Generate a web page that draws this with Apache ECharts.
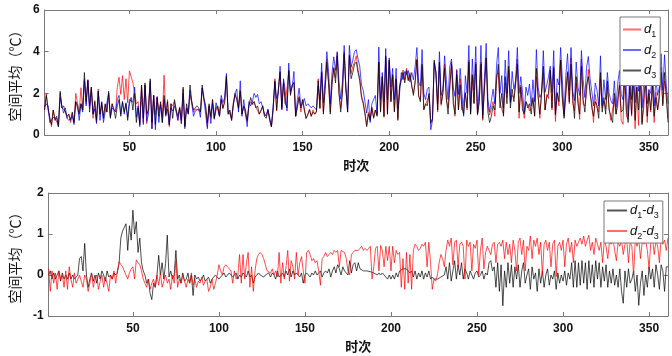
<!DOCTYPE html>
<html>
<head>
<meta charset="utf-8">
<script src="https://cdn.jsdelivr.net/npm/echarts@6/dist/echarts.min.js"></script>
<style>
  html, body { margin: 0; padding: 0; background: #fff; }
  #main { width: 672px; height: 356px; }
</style>
</head>
<body>
<div id="main"></div>
<script>
// 时次 1..361
var xTicks = [50, 100, 150, 200, 250, 300, 350];
var yTicksTop = [0, 2, 4, 6];
var yTicksBottom = [-1, 0, 1, 2];

// 上图 d1 (红)
var d1 = [
  1.2, 2.0, 1.2, 0.85, 0.4, 1.2, 0.8, 0.75, 0.45, 2.0, 1.3, 1.3, 1.15, 0.8, 1.0, 0.6, 1.05, 0.6, 2.0, 2.05,
  1.1, 2.27, 1.2, 2.7, 1.5, 2.65, 1.25, 2.3, 0.8, 1.65, 0.6, 2.2, 1.0, 1.45, 0.9, 1.45, 1.1, 2.0, 0.85, 1.5,
  1.25, 1.1, 2.3, 2.77, 1.95, 2.85, 1.7, 2.7, 1.55, 3.08, 2.8, 2.5, 2.55, 1.5, 1.6, 0.6, 2.4, 0.6, 2.4, 0.55,
  0.6, 2.5, 0.3, 1.9, 0.98, 1.8, 1.2, 1.5, 0.88, 2.87, 0.95, 1.7, 0.4, 1.5, 1.4, 1.6, 1.2, 0.7, 1.35, 0.55,
  2.2, 0.45, 1.3, 1.0, 1.9, 1.6, 1.1, 1.25, 1.25, 1.2, 1.1, 2.25, 1.7, 1.35, 0.4, 1.4, 0.8, 1.7, 0.75, 1.2,
  1.35, 0.9, 1.75, 1.25, 1.6, 2.85, 1.0, 1.15, 0.7, 1.55, 1.9, 1.7, 1.25, 2.15, 1.0, 1.35, 1.3, 0.65, 1.4, 1.6,
  1.45, 1.6, 1.35, 1.4, 1.0, 1.15, 1.4, 0.9, 0.85, 1.15, 0.75, 0.4, 1.2, 2.7, 1.15, 2.2, 3.05, 1.25, 2.6, 1.5,
  1.45, 3.05, 2.0, 2.4, 2.55, 0.9, 1.35, 1.85, 1.1, 1.7, 1.25, 0.8, 0.95, 1.25, 0.9, 1.2, 1.0, 1.15, 2.7, 1.25,
  3.05, 1.1, 2.25, 3.65, 2.45, 1.1, 2.6, 3.25, 2.75, 3.95, 2.0, 1.3, 2.1, 4.0, 2.2, 1.45, 3.85, 2.95, 3.3, 3.5,
  3.8, 3.15, 2.72, 1.9, 1.6, 1.1, 0.48, 1.08, 0.75, 1.35, 0.85, 1.2, 0.95, 3.5, 1.15, 2.8, 0.85, 3.7, 1.0, 3.5,
  1.6, 2.8, 1.15, 2.65, 0.8, 2.42, 2.75, 3.12, 2.65, 3.2, 2.65, 3.0, 2.35, 2.0, 2.5, 3.65, 1.85, 1.7, 3.3, 1.25,
  1.45, 1.5, 1.9, 0.55, 0.7, 3.52, 2.9, 1.1, 3.45, 1.42, 2.0, 3.4, 1.7, 1.3, 2.25, 3.5, 1.85, 0.9, 3.15, 1.2,
  2.7, 1.2, 1.15, 2.05, 1.2, 3.6, 1.0, 2.8, 1.55, 3.5, 0.95, 1.6, 3.5, 0.7, 2.25, 3.7, 1.4, 0.95, 1.0, 1.6,
  0.9, 2.9, 3.0, 1.55, 1.25, 1.0, 2.5, 1.8, 3.1, 1.55, 1.9, 1.8, 2.4, 3.65, 0.8, 2.4, 1.5, 0.8, 1.6, 1.45,
  1.15, 1.2, 1.7, 0.95, 2.8, 1.95, 0.8, 2.1, 3.0, 1.2, 1.95, 1.75, 3.1, 1.2, 3.3, 0.65, 2.05, 1.4, 3.6, 1.65,
  0.9, 1.85, 3.05, 1.5, 3.7, 1.5, 1.15, 2.5, 1.8, 0.75, 3.65, 1.5, 1.4, 2.05, 3.15, 1.9, 1.55, 0.6, 1.95, 1.3,
  1.1, 2.7, 1.3, 1.65, 1.25, 2.3, 1.3, 0.7, 0.75, 1.75, 1.0, 1.4, 2.55, 0.7, 0.51, 2.9, 0.9, 0.75, 2.3, 0.9,
  3.0, 0.3, 2.3, 0.46, 2.8, 0.6, 1.3, 2.6, 0.6, 2.2, 1.1, 2.55, 0.6, 2.05, 1.2, 1.65, 3.25, 1.5, 2.6, 2.0, 0.8
];

// 上图 d2 (蓝)
var d2 = [
  1.35, 1.5, 1.4, 0.6, 0.55, 0.85, 0.8, 0.8, 0.4, 1.8, 1.4, 1.05, 1.3, 0.8, 0.7, 0.75, 0.9, 0.5, 1.6, 1.45,
  0.7, 1.5, 1.1, 2.6, 1.4, 2.65, 1.1, 2.2, 1.0, 1.25, 0.55, 2.1, 0.7, 1.55, 0.6, 1.1, 1.1, 2.0, 0.9, 1.3,
  1.3, 1.12, 1.7, 1.9, 1.0, 1.6, 1.0, 1.55, 0.85, 1.7, 1.7, 1.57, 2.3, 0.85, 1.4, 0.4, 2.2, 0.5, 2.4, 0.65,
  1.0, 2.6, 0.3, 1.9, 0.25, 1.85, 0.6, 1.45, 0.6, 1.7, 0.9, 1.25, 0.5, 1.3, 1.15, 1.4, 1.1, 0.7, 1.3, 0.55,
  2.0, 0.3, 1.3, 1.05, 2.15, 1.5, 0.9, 1.15, 1.2, 1.25, 0.85, 2.25, 1.7, 1.0, 0.3, 1.4, 0.55, 1.5, 0.8, 1.55,
  1.5, 0.9, 1.9, 1.55, 1.8, 2.95, 1.1, 1.0, 0.8, 1.4, 2.0, 2.2, 1.1, 2.6, 0.9, 1.7, 1.75, 0.4, 1.6, 1.4,
  1.6, 2.0, 1.8, 1.95, 1.5, 1.6, 1.65, 1.0, 0.9, 1.25, 0.85, 0.4, 1.4, 2.55, 1.75, 2.0, 3.3, 1.2, 2.7, 2.1,
  1.15, 3.45, 2.1, 2.3, 3.05, 0.9, 1.7, 2.25, 1.4, 1.5, 1.75, 1.4, 1.5, 1.55, 1.3, 1.4, 1.35, 1.2, 2.35, 1.7,
  3.45, 1.55, 2.65, 4.0, 3.05, 1.5, 3.0, 3.75, 3.1, 4.0, 2.6, 1.72, 2.55, 4.3, 2.3, 1.1, 4.3, 3.25, 3.6, 4.0,
  4.1, 3.65, 3.3, 2.4, 2.15, 1.6, 1.05, 1.7, 0.6, 1.5, 1.45, 1.9, 1.0, 4.22, 1.7, 3.0, 1.6, 4.15, 1.7, 3.7,
  2.3, 3.2, 1.7, 3.2, 1.25, 2.0, 3.0, 2.65, 3.05, 2.9, 3.1, 2.55, 3.0, 2.65, 3.3, 4.2, 2.55, 2.35, 4.1, 2.0,
  1.7, 2.2, 2.3, 0.25, 0.7, 3.45, 3.0, 1.5, 4.0, 1.9, 2.2, 3.8, 2.65, 1.7, 3.3, 3.65, 2.3, 1.85, 3.1, 1.95,
  3.2, 2.0, 0.9, 2.85, 2.0, 4.3, 1.1, 3.65, 2.15, 4.25, 1.0, 2.2, 4.3, 0.95, 2.75, 4.4, 1.7, 1.1, 1.65, 2.2,
  1.5, 3.35, 4.2, 2.0, 2.85, 1.3, 3.6, 2.0, 4.05, 1.6, 3.05, 2.2, 2.6, 4.2, 2.0, 2.8, 2.05, 1.1, 2.3, 1.9,
  2.45, 1.4, 2.65, 1.6, 4.1, 2.3, 1.8, 2.0, 4.05, 2.05, 2.4, 2.8, 3.3, 2.05, 4.05, 0.96, 2.7, 2.4, 4.2, 2.65,
  1.0, 2.85, 3.9, 2.15, 4.2, 2.1, 1.65, 3.5, 2.3, 1.9, 4.05, 2.65, 1.8, 3.25, 3.77, 2.7, 2.1, 1.4, 2.5, 2.15,
  1.4, 3.8, 1.4, 2.65, 1.7, 3.0, 2.0, 1.65, 1.5, 2.6, 1.35, 2.5, 3.1, 1.95, 1.7, 3.55, 2.1, 0.9, 3.3, 1.7,
  2.9, 1.55, 3.0, 2.1, 3.4, 1.3, 2.55, 3.45, 1.5, 2.15, 2.0, 3.3, 1.4, 2.65, 1.9, 2.3, 3.9, 2.15, 3.85, 2.4, 1.5
];

// 上图 d3 (黑)
var d3 = [
  1.2, 1.9, 1.3, 0.8, 0.5, 1.2, 0.7, 0.9, 0.4, 2.1, 1.3, 1.4, 1.1, 0.9, 1.0, 0.7, 1.1, 0.6, 1.6, 1.6,
  1.0, 1.5, 1.2, 3.0, 1.6, 2.6, 1.4, 2.3, 1.0, 1.6, 0.7, 2.1, 1.0, 1.6, 0.8, 1.5, 1.1, 2.1, 0.8, 1.5,
  1.2, 0.8, 1.4, 1.7, 0.9, 1.6, 1.1, 1.5, 0.7, 1.5, 1.8, 1.2, 2.0, 0.6, 1.3, 0.5, 2.4, 0.8, 2.5, 1.0,
  1.2, 2.7, 0.6, 1.9, 0.5, 1.8, 0.9, 1.6, 0.6, 1.9, 1.0, 1.6, 0.5, 1.5, 0.8, 1.7, 1.2, 0.9, 1.3, 0.7,
  2.3, 0.4, 1.5, 1.0, 2.4, 1.6, 1.2, 1.3, 1.4, 1.3, 1.1, 2.4, 1.8, 1.4, 0.6, 1.5, 0.9, 1.7, 0.8, 1.3,
  1.4, 0.9, 1.7, 1.3, 1.6, 2.8, 1.0, 1.2, 0.7, 1.5, 2.0, 1.7, 1.3, 2.1, 1.0, 1.4, 1.2, 0.7, 1.4, 1.8,
  1.5, 1.6, 1.3, 1.4, 1.0, 1.2, 1.4, 0.9, 0.8, 1.2, 0.7, 0.4, 1.3, 2.6, 1.2, 2.2, 3.0, 1.3, 2.5, 1.5,
  1.3, 3.1, 1.9, 2.4, 2.5, 0.9, 1.4, 1.8, 1.3, 1.7, 1.2, 0.8, 1.0, 1.2, 0.9, 1.1, 1.0, 1.1, 2.6, 1.3,
  3.0, 1.0, 2.2, 3.5, 2.5, 1.0, 2.4, 3.2, 2.5, 3.8, 2.0, 1.1, 2.0, 3.9, 2.2, 1.1, 3.8, 2.7, 3.0, 3.4,
  3.5, 3.0, 2.6, 1.8, 1.5, 1.0, 0.4, 1.0, 0.7, 1.3, 0.8, 1.2, 0.9, 3.5, 1.1, 2.8, 0.9, 3.8, 1.0, 3.6,
  1.6, 2.9, 1.1, 2.7, 0.7, 2.3, 2.6, 3.0, 2.5, 3.1, 2.6, 2.9, 2.4, 1.9, 2.6, 3.6, 1.9, 1.6, 3.4, 1.2,
  1.5, 1.4, 2.0, 0.6, 0.8, 3.6, 3.0, 1.2, 3.5, 1.5, 2.0, 3.2, 1.8, 1.0, 2.4, 3.4, 1.5, 1.0, 2.9, 1.2,
  2.4, 1.3, 1.0, 2.0, 1.3, 3.5, 1.0, 2.9, 1.5, 3.4, 1.0, 1.6, 3.4, 0.8, 2.2, 3.7, 1.1, 0.6, 0.9, 1.4,
  1.2, 2.6, 3.4, 1.3, 2.0, 0.9, 2.8, 1.5, 3.3, 1.3, 2.2, 1.6, 2.5, 3.4, 1.1, 2.3, 1.2, 1.0, 1.6, 1.3,
  1.5, 1.0, 1.8, 0.9, 3.2, 1.8, 1.0, 2.0, 3.3, 1.2, 1.8, 2.0, 3.1, 1.3, 3.2, 1.0, 2.0, 1.6, 3.6, 1.8,
  0.8, 2.1, 3.0, 1.6, 3.4, 1.8, 0.8, 2.8, 1.5, 1.0, 3.3, 1.7, 1.1, 2.4, 2.8, 2.1, 1.3, 0.9, 1.6, 1.4,
  0.8, 3.0, 1.1, 1.8, 1.0, 2.6, 1.2, 0.9, 0.6, 2.0, 1.0, 1.7, 2.4, 1.1, 1.2, 2.8, 1.2, 0.6, 2.5, 1.0,
  2.9, 0.7, 2.3, 1.2, 3.0, 0.5, 1.8, 2.6, 0.9, 2.0, 1.2, 2.4, 0.9, 1.8, 1.2, 2.0, 3.0, 1.4, 3.0, 1.8, 0.6
];

// 下图 d1-d3 (黑)
var d13 = [
  0.0, 0.1, -0.1, 0.05, -0.1, 0.0, 0.1, -0.15, 0.05, -0.1, 0.0, -0.1, 0.05, -0.1, 0.0, -0.1, -0.05, 0.0, 0.4, 0.45,
  0.1, 0.77, 0.0, -0.3, -0.1, 0.05, -0.15, 0.0, -0.2, 0.05, -0.1, 0.1, 0.0, -0.15, 0.1, -0.05, 0.0, -0.1, 0.05, 0.0,
  0.05, 0.3, 0.9, 1.07, 1.05, 1.25, 0.6, 1.2, 0.85, 1.58, 1.0, 1.3, 0.55, 0.9, 0.3, 0.1, 0.0, -0.2, -0.1, -0.45,
  -0.6, -0.2, -0.3, 0.0, 0.48, 0.0, 0.3, -0.1, 0.28, 0.97, -0.05, 0.1, -0.1, 0.0, 0.6, -0.1, 0.0, -0.2, 0.05, -0.15,
  -0.1, 0.05, -0.2, 0.0, -0.5, 0.0, -0.1, -0.05, -0.15, -0.1, 0.0, -0.15, -0.1, -0.05, -0.2, -0.1, -0.1, 0.0, -0.05, -0.1,
  -0.05, 0.0, 0.05, -0.05, 0.0, 0.05, 0.0, -0.05, 0.0, 0.05, -0.1, 0.0, -0.05, 0.05, 0.0, -0.05, 0.1, -0.05, 0.0, -0.2,
  -0.05, 0.0, 0.05, 0.0, 0.0, -0.05, 0.0, 0.0, 0.05, -0.05, 0.05, 0.0, -0.1, 0.1, -0.05, 0.0, 0.05, -0.05, 0.1, 0.0,
  0.15, -0.05, 0.1, 0.0, 0.05, 0.0, -0.05, 0.05, -0.2, 0.0, 0.05, 0.0, -0.05, 0.05, 0.0, 0.1, 0.0, 0.05, 0.1, -0.05,
  0.05, 0.1, 0.05, 0.15, -0.05, 0.1, 0.2, 0.05, 0.25, 0.15, 0.0, 0.2, 0.1, 0.1, 0.0, 0.35, 0.05, 0.25, 0.3, 0.1,
  0.3, 0.15, 0.12, 0.1, 0.1, 0.1, 0.08, 0.08, 0.05, 0.05, 0.05, 0.0, 0.05, 0.0, 0.05, 0.0, -0.05, -0.1, 0.0, -0.1,
  0.0, -0.1, 0.05, -0.05, 0.1, 0.12, 0.15, 0.12, 0.15, 0.1, 0.05, 0.1, -0.05, 0.1, -0.1, 0.05, -0.05, 0.1, -0.1, 0.05,
  -0.05, 0.1, -0.1, -0.05, -0.1, -0.08, -0.1, -0.1, -0.05, -0.08, 0.0, 0.2, -0.1, 0.3, -0.15, 0.1, 0.35, -0.1, 0.25, 0.0,
  0.3, -0.1, 0.15, 0.05, -0.1, 0.1, 0.0, -0.1, 0.05, 0.1, -0.05, 0.0, 0.1, -0.1, 0.05, 0.0, 0.3, 0.35, 0.1, 0.2,
  -0.3, 0.3, -0.4, 0.25, -0.75, 0.1, -0.3, 0.3, -0.2, 0.25, -0.3, 0.2, -0.1, 0.25, -0.3, 0.1, 0.3, -0.2, 0.0, 0.15,
  -0.35, 0.2, -0.1, 0.05, -0.4, 0.15, -0.2, 0.1, -0.3, 0.0, 0.15, -0.25, 0.0, -0.1, 0.1, -0.35, 0.05, -0.2, 0.0, -0.15,
  0.1, -0.25, 0.05, -0.1, 0.3, -0.3, 0.35, -0.3, 0.3, -0.25, 0.35, -0.2, 0.3, -0.35, 0.35, -0.2, 0.25, -0.3, 0.35, -0.1,
  0.3, -0.3, 0.2, -0.15, 0.25, -0.3, 0.1, -0.2, 0.15, -0.25, 0.0, -0.3, 0.15, -0.4, -0.69, 0.1, -0.3, 0.15, -0.2, -0.1,
  0.1, -0.4, 0.0, -0.74, -0.2, 0.1, -0.5, 0.0, -0.3, 0.2, -0.1, 0.15, -0.3, 0.25, 0.0, -0.35, 0.25, 0.1, -0.4, 0.2, 0.2
];

// 下图 d2-d3 (红)
var d23 = [
  0.15, -0.4, 0.1, -0.2, 0.05, -0.35, 0.1, -0.1, 0.0, -0.3, 0.1, -0.35, 0.2, -0.1, -0.3, 0.05, -0.2, -0.1, 0.0, -0.15,
  -0.3, 0.0, -0.1, -0.4, -0.2, 0.05, -0.3, -0.1, 0.0, -0.35, -0.15, 0.0, -0.3, -0.05, -0.2, -0.4, 0.0, -0.1, 0.1, -0.2,
  0.1, 0.32, 0.3, 0.2, 0.1, 0.0, -0.1, 0.05, 0.15, 0.2, -0.1, 0.37, 0.3, 0.25, 0.1, -0.1, -0.2, -0.3, -0.1, -0.35,
  -0.2, -0.1, -0.3, 0.0, -0.25, 0.05, -0.3, -0.15, 0.0, -0.2, -0.1, -0.35, 0.0, -0.2, 0.35, -0.3, -0.1, -0.2, 0.0, -0.15,
  -0.3, -0.1, -0.2, 0.05, -0.25, -0.1, -0.3, -0.15, -0.2, -0.05, -0.25, -0.15, -0.1, -0.4, -0.3, -0.1, -0.35, -0.2, 0.0, 0.25,
  0.1, 0.0, 0.2, 0.25, 0.2, 0.15, 0.1, -0.2, 0.1, -0.1, 0.0, 0.5, -0.2, 0.5, -0.1, 0.3, 0.55, -0.3, 0.2, -0.4,
  0.1, 0.4, 0.5, 0.55, 0.5, 0.4, 0.25, 0.1, 0.1, 0.05, 0.15, 0.0, 0.1, -0.05, 0.55, -0.2, 0.3, -0.1, 0.2, 0.6,
  -0.15, 0.35, 0.2, -0.1, 0.55, 0.0, 0.3, 0.45, 0.1, -0.2, 0.55, 0.6, 0.5, 0.35, 0.4, 0.3, 0.35, 0.1, -0.25, 0.4,
  0.45, 0.55, 0.45, 0.5, 0.55, 0.5, 0.6, 0.55, 0.6, 0.2, 0.6, 0.62, 0.55, 0.4, 0.1, 0.0, 0.5, 0.55, 0.6, 0.6,
  0.6, 0.65, 0.7, 0.6, 0.65, 0.6, 0.65, 0.7, -0.1, 0.2, 0.65, 0.7, 0.1, 0.72, 0.6, 0.2, 0.7, 0.35, 0.7, 0.1,
  0.7, 0.3, 0.6, 0.5, 0.55, -0.3, 0.4, -0.35, 0.55, -0.2, 0.5, -0.35, 0.6, 0.75, 0.7, 0.6, 0.65, 0.75, 0.7, 0.8,
  0.2, 0.8, 0.3, -0.35, -0.1, -0.15, 0.0, 0.3, 0.5, 0.4, 0.2, 0.6, 0.85, 0.7, 0.9, 0.25, 0.8, 0.85, 0.2, 0.75,
  0.8, 0.7, -0.1, 0.85, 0.7, 0.8, 0.1, 0.75, 0.65, 0.85, 0.0, 0.6, 0.9, 0.15, 0.55, 0.7, 0.6, 0.5, 0.75, 0.8,
  0.3, 0.75, 0.8, 0.7, 0.85, 0.4, 0.8, 0.5, 0.75, 0.3, 0.85, 0.6, 0.1, 0.8, 0.9, 0.5, 0.85, 0.1, 0.7, 0.6,
  0.95, 0.4, 0.85, 0.7, 0.9, 0.5, 0.8, 0.0, 0.75, 0.85, 0.6, 0.8, 0.2, 0.75, 0.85, -0.04, 0.7, 0.8, 0.6, 0.85,
  0.2, 0.75, 0.9, 0.55, 0.8, 0.3, 0.85, 0.7, 0.8, 0.9, 0.75, 0.95, 0.7, 0.85, 0.97, 0.6, 0.8, 0.5, 0.9, 0.75,
  0.6, 0.8, 0.3, 0.85, 0.7, 0.4, 0.8, 0.75, 0.9, 0.6, 0.35, 0.8, 0.7, 0.85, 0.5, 0.75, 0.9, 0.3, 0.8, 0.7,
  0.0, 0.85, 0.7, 0.9, 0.4, 0.8, 0.75, 0.85, 0.6, 0.15, 0.8, 0.9, 0.5, 0.85, 0.7, 0.3, 0.9, 0.75, 0.85, 0.6, 0.9
];

// 线色, 以及图例里较淡的线样
var seriesColors = {
  'd1': '#ff0000', 'd2': '#0000ff', 'd3': '#000000',
  'd1-d3': '#000000', 'd2-d3': '#ff0000'
};
var legendColors = {
  'd1': '#ff6a6a', 'd2': '#6a6aff', 'd3': '#555555',
  'd1-d3': '#555555', 'd2-d3': '#ff6a6a'
};

function pairs(arr) {
  return arr.map(function (v, i) { return [i + 1, v]; });
}

var numFont = 'Liberation Sans, Arial, sans-serif';
var cjkFont = 'Noto Sans CJK SC, sans-serif';
var frame = '#7a7a7a';

function xAx(grid, pos, showLabel, name) {
  return {
    type: 'value', gridIndex: grid, position: pos,
    min: 1, max: 361,
    axisLine: { show: true, onZero: false, lineStyle: { color: frame, width: 1 } },
    axisTick: { show: true, inside: true, length: 4, customValues: xTicks, lineStyle: { color: frame } },
    axisLabel: { show: showLabel, customValues: xTicks, margin: 7, color: '#111',
                 fontFamily: numFont, fontWeight: 'bold', fontSize: 12 },
    splitLine: { show: false },
    name: name, nameLocation: 'middle', nameGap: 24,
    nameTextStyle: { fontFamily: cjkFont, fontWeight: 'bold', fontSize: 13, color: '#111' }
  };
}

function yAx(grid, pos, showLabel, min, max, ticks, name) {
  return {
    type: 'value', gridIndex: grid, position: pos,
    min: min, max: max,
    axisLine: { show: true, onZero: false, lineStyle: { color: frame, width: 1 } },
    axisTick: { show: true, inside: true, length: 4, customValues: ticks, lineStyle: { color: frame } },
    axisLabel: { show: showLabel, customValues: ticks, margin: 5, color: '#111',
                 fontFamily: numFont, fontWeight: 'bold', fontSize: 12 },
    splitLine: { show: false },
    name: name, nameLocation: 'middle', nameGap: 16,
    nameTextStyle: { fontFamily: cjkFont, fontSize: 14, color: '#111' }
  };
}

var legendNames = {
  'd1': '{i|d}{s|1}',
  'd2': '{i|d}{s|2}',
  'd3': '{i|d}{s|3}',
  'd1-d3': '{i|d}{s|1}{n|-}{i|d}{s|3}',
  'd2-d3': '{i|d}{s|2}{n|-}{i|d}{s|3}'
};
var legendRich = {
  i: { fontFamily: numFont, fontStyle: 'italic', fontSize: 13, color: '#111', lineHeight: 16, verticalAlign: 'middle' },
  n: { fontFamily: numFont, fontSize: 13, color: '#111', lineHeight: 16, verticalAlign: 'middle' },
  s: { fontFamily: numFont, fontSize: 9, color: '#111', lineHeight: 9, verticalAlign: 'bottom', padding: [0, 0, -2, 0] }
};

function line(name, data, xi, yi) {
  var color = seriesColors[name];
  return {
    name: name, type: 'line', data: pairs(data),
    xAxisIndex: xi, yAxisIndex: yi,
    symbol: 'none', showSymbol: false,
    color: color,
    lineStyle: { color: color, width: 0.7 },
    itemStyle: { color: color },
    emphasis: { disabled: true },
    silent: true
  };
}

function legendBox(names, left, top, padding, gap, w) {
  return {
    z: 50,
    data: names.map(function (n) {
      return { name: n, icon: 'rect', itemStyle: { color: legendColors[n], borderWidth: 0, opacity: 1 } };
    }),
    orient: 'vertical', left: left, top: top,
    padding: padding, itemGap: gap, itemWidth: w, itemHeight: 2,
    backgroundColor: '#fff', borderColor: frame, borderWidth: 1, borderRadius: 0,
    formatter: function (n) { return legendNames[n]; },
    textStyle: { rich: legendRich, padding: [0, 0, 0, -2] }
  };
}

var chart = echarts.init(document.getElementById('main'));
chart.setOption({
  animation: false,
  backgroundColor: '#fff',
  grid: [
    { left: 38, top: 10, width: 630, height: 125 },
    { left: 38, top: 193, width: 630, height: 123 }
  ],
  xAxis: [
    xAx(0, 'bottom', true, '时次'),
    xAx(0, 'top', false, ''),
    xAx(1, 'bottom', true, '时次'),
    xAx(1, 'top', false, '')
  ],
  yAxis: [
    yAx(0, 'left', true, 0, 6, yTicksTop, '空间平均（℃）'),
    yAx(0, 'right', false, 0, 6, yTicksTop, ''),
    yAx(1, 'left', true, -1, 2, yTicksBottom, '空间平均（℃）'),
    yAx(1, 'right', false, -1, 2, yTicksBottom, '')
  ],
  legend: [
    legendBox(['d1', 'd2', 'd3'], 620, 17, [6, 4, 5, 3], 4, 18),
    legendBox(['d1-d3', 'd2-d3'], 604, 201, [3, 4, 2, 3], 4, 20)
  ],
  series: [
    line('d1', d1, 0, 0),
    line('d2', d2, 0, 0),
    line('d3', d3, 0, 0),
    line('d1-d3', d13, 2, 2),
    line('d2-d3', d23, 2, 2)
  ]
});
</script>
</body>
</html>
